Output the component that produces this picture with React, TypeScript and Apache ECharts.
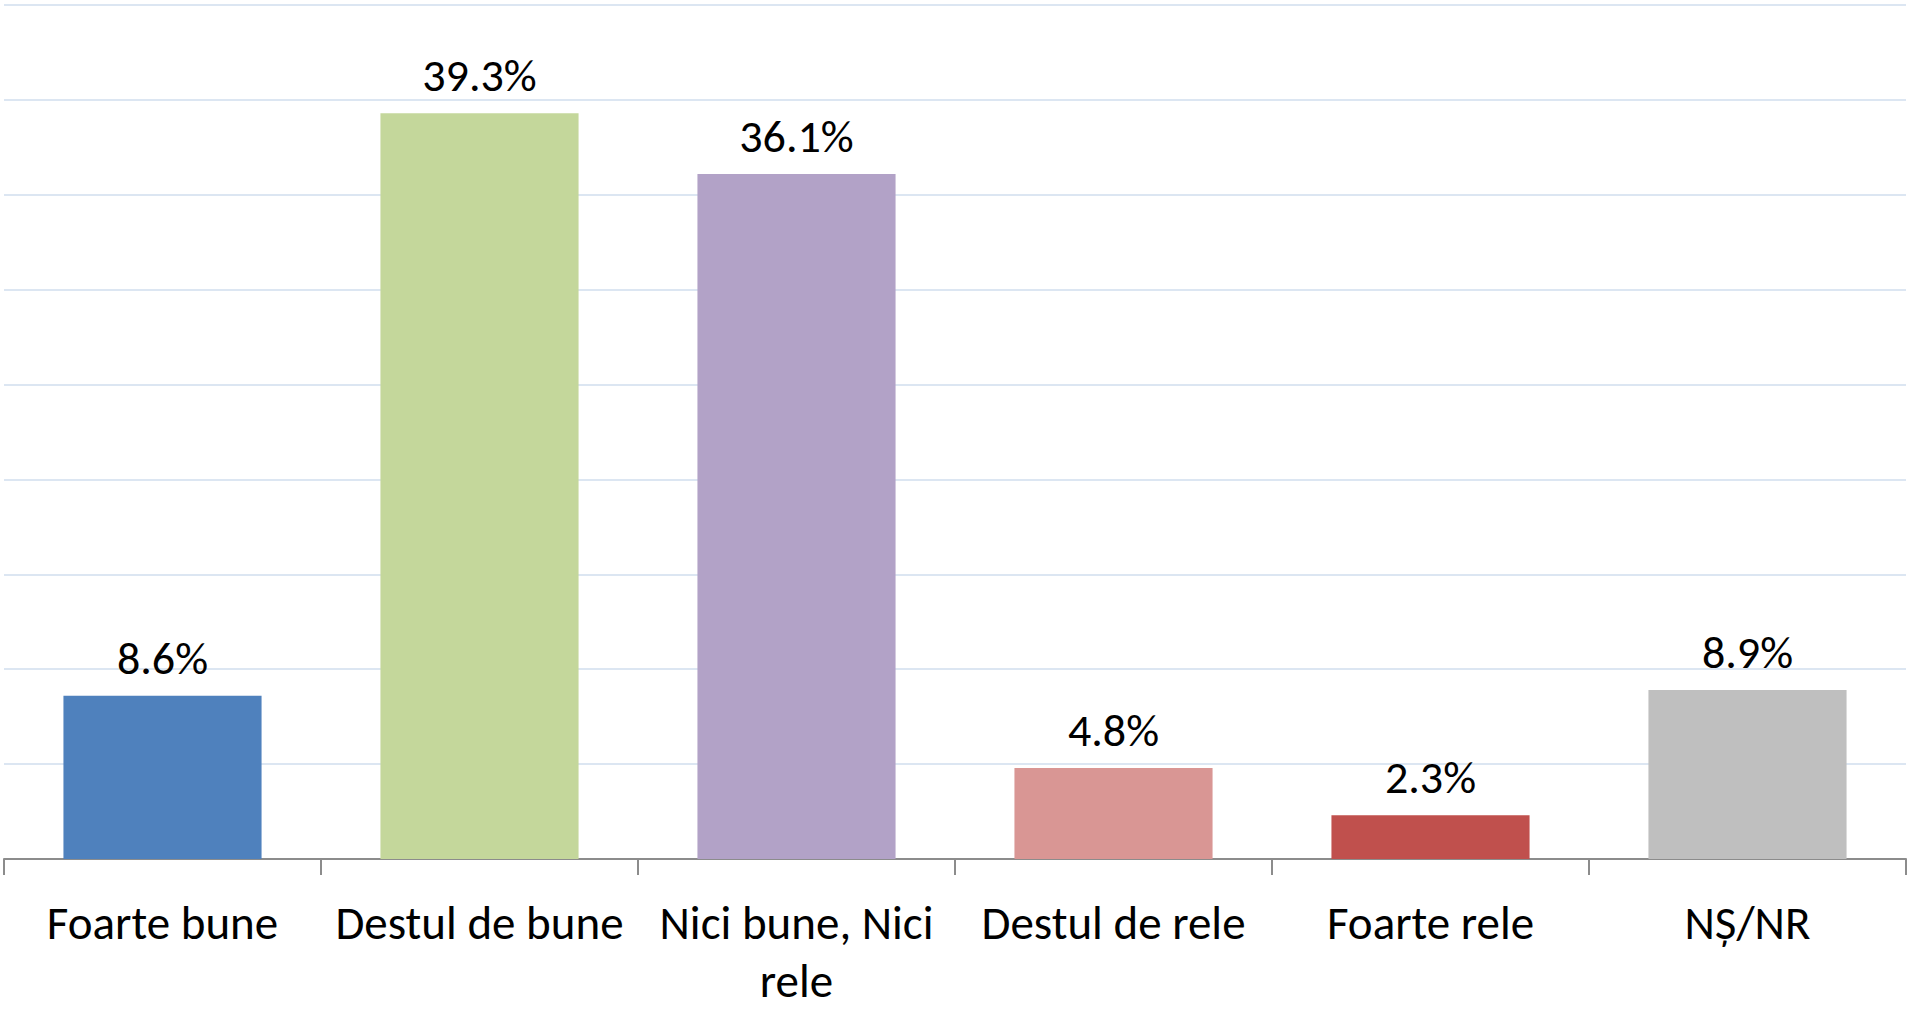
import React, { useEffect, useRef } from "react";
import * as echarts from "echarts";

const categories = ["Foarte bune", "Destul de bune", "Nici bune, Nici rele", "Destul de rele", "Foarte rele", "NȘ/NR"];
const values = [8.6, 39.3, 36.1, 4.8, 2.3, 8.9];
const colors = ["#4F81BD", "#C4D79B", "#B2A2C7", "#D99694", "#C0504D", "#BFBFBF"];
const yTicks = { min: 0, max: 45, interval: 5 };

export default function App() {
  const ref = useRef<HTMLDivElement>(null);
  useEffect(() => {
    const chart = echarts.init(ref.current!, null, { renderer: "svg" });
    const font = "Carlito, Lato, sans-serif";
    chart.setOption({
      animation: false,
      backgroundColor: "#ffffff",
      grid: { left: 4, right: 1, top: 5, bottom: 138, containLabel: false },
      xAxis: {
        type: "category",
        data: categories,
        axisLine: { show: true, lineStyle: { color: "#8C8C8C", width: 2 } },
        axisTick: { show: true, length: 16, lineStyle: { color: "#8C8C8C", width: 2 } },
        axisLabel: {
          interval: 0,
          margin: 35,
          color: "#000000",
          fontFamily: font,
          fontSize: 47,
          lineHeight: 58,
          formatter: (v: string) => (v === "Nici bune, Nici rele" ? "Nici bune, Nici\nrele" : v),
        },
      },
      yAxis: {
        type: "value",
        min: yTicks.min,
        max: yTicks.max,
        interval: yTicks.interval,
        axisLabel: { show: false },
        axisLine: { show: false },
        axisTick: { show: false },
        splitLine: { show: true, lineStyle: { color: "#DCE6F2", width: 2 } },
      },
      series: [
        {
          type: "bar",
          barWidth: "62.5%",
          data: values.map((v, i) => ({ value: v, itemStyle: { color: colors[i] } })),
          label: {
            show: true,
            position: "top",
            distance: 15,
            color: "#000000",
            fontFamily: font,
            fontSize: 46,
            formatter: (p: any) => p.value.toFixed(1) + "%",
          },
        },
      ],
    });
    return () => chart.dispose();
  }, []);
  return (
    <div
      ref={ref}
      style={{ position: "fixed", left: 0, top: 0, width: 1907, height: 1010, background: "#fff" }}
    />
  );
}
